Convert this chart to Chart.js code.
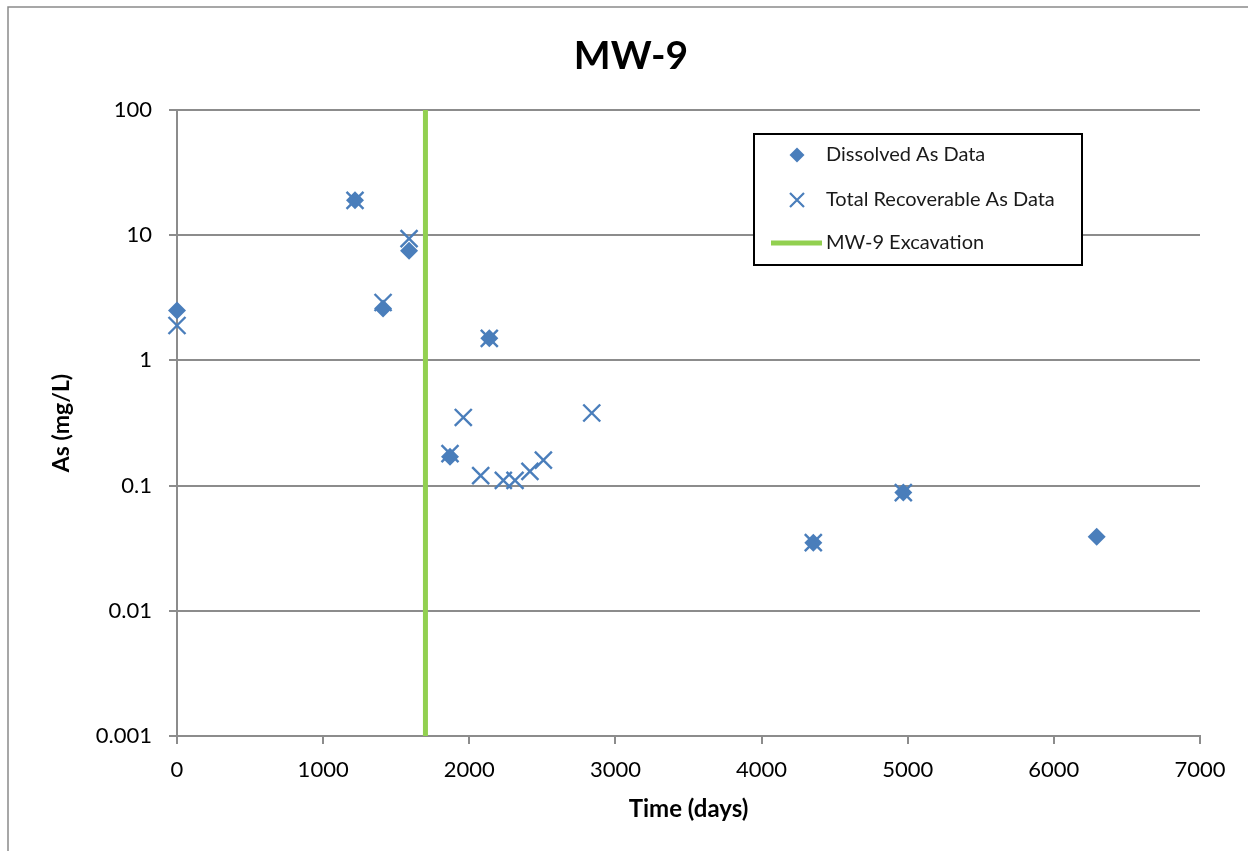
<!DOCTYPE html>
<html>
<head>
<meta charset="utf-8">
<script src="https://cdn.jsdelivr.net/npm/chart.js@4.4.0/dist/chart.umd.min.js"></script>
<style>
  html, body { margin: 0; padding: 0; background: #fff; }
  #wrap { position: relative; width: 1248px; height: 851px; }
</style>
</head>
<body>
<div id="wrap"><canvas id="mwChart" width="1248" height="851"></canvas></div>
<script>
// Data
const dissolvedDays = [0, 1218, 1410, 1588, 1868, 2137, 4354, 4970, 6293];
const dissolvedAs = [2.5, 19, 2.6, 7.5, 0.17, 1.5, 0.035, 0.088, 0.039];

const totalDays = [0, 1218, 1410, 1588, 1868, 1959, 2078, 2137, 2233, 2313, 2415, 2507, 2838, 4354, 4970];
const totalAs = [1.9, 19, 2.9, 9.4, 0.18, 0.35, 0.12, 1.5, 0.11, 0.11, 0.13, 0.16, 0.38, 0.035, 0.088];

const excavationDay = [1700, 1700];
const excavationAs = [0.001, 100];

const yTicks = [0.001, 0.01, 0.1, 1, 10, 100];
const yTickLabels = ['0.001', '0.01', '0.1', '1', '10', '100'];
const xTicks = [0, 1000, 2000, 3000, 4000, 5000, 6000, 7000];

const chartTitle = 'MW-9';

const blue = '#4a7ebb';
const green = '#92d050';
const gridGray = '#8c8c8c';
const FONT = 'Lato, "Open Sans", sans-serif';

function toPoints(xs, ys) {
    return xs.map((x, i) => ({ x: x, y: ys[i] }));
}

// frame, title and legend box
const framePlugin = {
    id: 'frame',
    beforeDraw(chart) {
        const c = chart.ctx;
        c.save();
        c.strokeStyle = '#8a8a8a';
        c.lineWidth = 1.5;
        c.beginPath();
        c.moveTo(8, 851);
        c.lineTo(8, 7);
        c.lineTo(1248, 7);
        c.stroke();

        c.fillStyle = '#000';
        c.font = 'bold 39px ' + FONT;
        c.textAlign = 'center';
        c.textBaseline = 'middle';
        c.fillText(chartTitle, 631, 56);
        c.restore();
    },
    afterDraw(chart) {
        const c = chart.ctx;
        const ds = chart.data.datasets;
        c.save();
        c.fillStyle = '#fff';
        c.fillRect(754, 134, 328, 131);
        c.strokeStyle = '#000';
        c.lineWidth = 2;
        c.strokeRect(754, 134, 328, 131);

        // diamond
        c.fillStyle = blue;
        c.beginPath();
        c.moveTo(797 - 7.5, 155);
        c.lineTo(797, 155 - 7.5);
        c.lineTo(797 + 7.5, 155);
        c.lineTo(797, 155 + 7.5);
        c.closePath();
        c.fill();

        // cross
        c.strokeStyle = blue;
        c.lineWidth = 2.2;
        c.beginPath();
        c.moveTo(790, 193); c.lineTo(804, 207);
        c.moveTo(804, 193); c.lineTo(790, 207);
        c.stroke();

        // line
        c.strokeStyle = green;
        c.lineWidth = 5;
        c.beginPath();
        c.moveTo(771, 243);
        c.lineTo(822, 243);
        c.stroke();

        c.fillStyle = '#1a1a1a';
        c.font = '20px ' + FONT;
        c.textBaseline = 'middle';
        c.textAlign = 'left';
        c.fillText(ds[0].label, 826, 155);
        c.fillText(ds[1].label, 826, 200);
        c.fillText(ds[2].label, 826, 243);
        c.restore();
    }
};

const ctx = document.getElementById('mwChart').getContext('2d');
const mwChart = new Chart(ctx, {
    type: 'scatter',
    data: {
        datasets: [
            {
                label: 'Dissolved As Data',
                data: toPoints(dissolvedDays, dissolvedAs),
                pointStyle: 'rectRot',
                pointRadius: 9,
                backgroundColor: blue,
                borderColor: blue,
                borderWidth: 0,
                clip: false,
                order: 2
            },
            {
                label: 'Total Recoverable As Data',
                data: toPoints(totalDays, totalAs),
                pointStyle: 'crossRot',
                pointRadius: 12,
                backgroundColor: blue,
                borderColor: blue,
                borderWidth: 2.4,
                clip: false,
                order: 1
            },
            {
                label: 'MW-9 Excavation',
                type: 'line',
                data: toPoints(excavationDay, excavationAs),
                borderColor: green,
                borderWidth: 5,
                pointRadius: 0,
                fill: false,
                order: 3
            }
        ]
    },
    options: {
        responsive: false,
        animation: false,
        layout: { padding: { left: 10, right: 48, top: 110, bottom: 0 } },
        plugins: {
            legend: { display: false },
            tooltip: { enabled: false },
            title: { display: false }
        },
        scales: {
            x: {
                type: 'linear',
                min: 0,
                max: 7000,
                afterBuildTicks: (scale) => { scale.ticks = xTicks.map(v => ({ value: v })); },
                afterFit: (scale) => { scale.height = 115; },
                grid: { drawOnChartArea: false, drawTicks: true, tickLength: 8, color: gridGray, lineWidth: 2 },
                border: { display: true, color: gridGray, width: 2 },
                ticks: {
                    color: '#000',
                    font: { family: FONT, size: 22 },
                    padding: 13,
                    maxRotation: 0,
                    callback: (value) => String(value)
                },
                title: {
                    display: true,
                    text: 'Time (days)',
                    color: '#000',
                    font: { family: FONT, size: 24, weight: 'bold', lineHeight: 1.2 },
                    padding: { top: 0, bottom: 27 }
                }
            },
            y: {
                type: 'logarithmic',
                min: 0.001,
                max: 100,
                afterBuildTicks: (scale) => { scale.ticks = yTicks.map(v => ({ value: v })); },
                afterFit: (scale) => { scale.width = 167; },
                grid: { drawTicks: true, tickLength: 8, color: gridGray, lineWidth: 2 },
                border: { display: true, color: gridGray, width: 2 },
                ticks: {
                    color: '#000',
                    font: { family: FONT, size: 22 },
                    padding: 17,
                    callback: (value) => {
                        const i = yTicks.indexOf(value);
                        return i >= 0 ? yTickLabels[i] : '';
                    }
                },
                title: {
                    display: true,
                    text: 'As (mg/L)',
                    color: '#000',
                    font: { family: FONT, size: 23, weight: 'bold', lineHeight: 1.2 },
                    padding: { top: 38, bottom: 0 }
                }
            }
        }
    },
    plugins: [framePlugin]
});
</script>
</body>
</html>
